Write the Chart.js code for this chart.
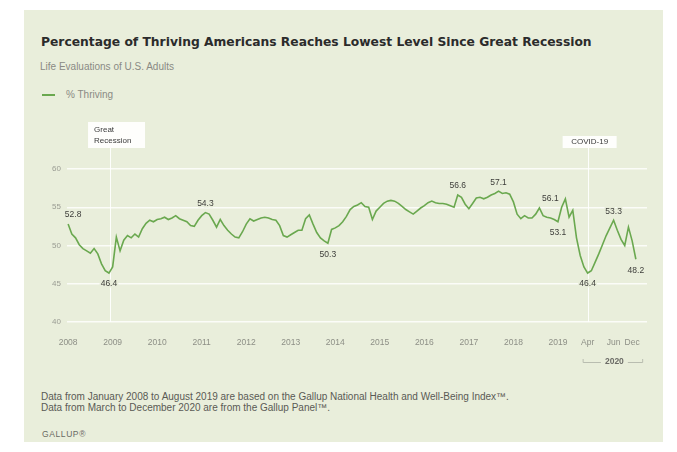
<!DOCTYPE html>
<html>
<head>
<meta charset="utf-8">
<script src="https://cdn.jsdelivr.net/npm/chart.js@4.4.1/dist/chart.umd.min.js"></script>
<style>
body { margin: 0; width: 677px; height: 452px; background: #fff; position: relative; overflow: hidden; font-family: "Liberation Sans", Arial, sans-serif; }
#card { position: absolute; left: 24px; top: 10px; width: 639px; height: 432px; background: #e9eedb; }
.txt { position: absolute; white-space: nowrap; }
#title { left: 41px; top: 35px; font: bold 12.3px/14px "DejaVu Sans", sans-serif; color: #2b2b2b; }
#subtitle { left: 40px; top: 61px; font-size: 10px; line-height: 12px; color: #8a8a84; }
#legend-line { position: absolute; left: 42px; top: 94px; width: 13px; height: 2px; background: #6aa84f; }
#legend { left: 66px; top: 89px; font-size: 10px; line-height: 12px; color: #8a8a84; }
#note { left: 41px; top: 391px; font-size: 10px; line-height: 11px; color: #5a5a55; }
#brand { left: 42px; top: 429px; font-size: 8.5px; line-height: 10px; color: #6a6a64; letter-spacing: 0.6px; }
#chart-box { position: absolute; left: 24px; top: 110px; width: 639px; height: 270px; }
</style>
</head>
<body>
<div id="card"></div>
<div class="txt" id="title">Percentage of Thriving Americans Reaches Lowest Level Since Great Recession</div>
<div class="txt" id="subtitle">Life Evaluations of U.S. Adults</div>
<div id="legend-line"></div>
<div class="txt" id="legend">% Thriving</div>
<div id="chart-box"><canvas id="chart" width="639" height="270"></canvas></div>
<div class="txt" id="note">Data from January 2008 to August 2019 are based on the Gallup National Health and Well-Being Index™.<br>Data from March to December 2020 are from the Gallup Panel™.</div>
<div class="txt" id="brand">GALLUP®</div>

<script>
// % thriving, monthly 2008-2019 (Well-Being Index), then Gallup Panel readings in 2020
const thriving2008 = [52.8, 51.5, 51.0, 50.1, 49.6, 49.3, 49.0, 49.6, 48.9, 47.6, 46.7, 46.4];
const thriving2009 = [47.2, 51.1, 49.3, 50.7, 51.3, 51.0, 51.5, 51.1, 52.2, 52.9, 53.3, 53.1];
const thriving2010 = [53.4, 53.5, 53.7, 53.4, 53.6, 53.9, 53.5, 53.3, 53.1, 52.6, 52.5, 53.3];
const thriving2011 = [53.9, 54.3, 54.1, 53.3, 52.4, 53.4, 52.6, 52.0, 51.5, 51.1, 51.0, 51.8];
const thriving2012 = [52.8, 53.5, 53.2, 53.4, 53.6, 53.7, 53.6, 53.4, 53.3, 52.6, 51.3, 51.1];
const thriving2013 = [51.4, 51.7, 52.0, 52.0, 53.5, 54.0, 52.8, 51.7, 51.0, 50.6, 50.3, 52.1];
const thriving2014 = [52.3, 52.6, 53.1, 53.8, 54.7, 55.1, 55.3, 55.6, 55.1, 55.0, 53.4, 54.5];
const thriving2015 = [55.0, 55.5, 55.8, 55.9, 55.8, 55.5, 55.1, 54.7, 54.4, 54.1, 54.5, 54.9];
const thriving2016 = [55.2, 55.6, 55.8, 55.6, 55.5, 55.5, 55.4, 55.2, 55.0, 56.6, 56.3, 55.4];
const thriving2017 = [54.8, 55.5, 56.2, 56.3, 56.1, 56.3, 56.6, 56.8, 57.1, 56.8, 56.9, 56.7];
const thriving2018 = [55.7, 54.1, 53.5, 53.9, 53.6, 53.6, 54.1, 54.9, 53.9, 53.7, 53.6, 53.4];
const thriving2019 = [53.1, 55.0, 56.1, 53.7, 54.6];
const thriving2020 = [51.0, 48.7, 47.2, 46.4, 46.7, 47.8, 48.9, 50.1, 51.3, 52.3, 53.3, 52.0, 50.8, 50.0, 52.4, 50.6, 48.2];

const thriving = [].concat(thriving2008, thriving2009, thriving2010, thriving2011, thriving2012,
    thriving2013, thriving2014, thriving2015, thriving2016, thriving2017, thriving2018,
    thriving2019, thriving2020);

// x axis labels and the reading (point number) each one sits under
const xTickLabels = ['2008', '2009', '2010', '2011', '2012', '2013', '2014', '2015', '2016', '2017', '2018', '2019', 'Apr', 'Jun', 'Dec'];
const xTickAt = [0, 12, 24, 36, 48, 60, 72, 84, 96, 108, 120, 132, 140, 147, 152];
const yTicks = [40, 45, 50, 55, 60];

// readings that get a value label, and where the label goes
const calloutAt = [0, 11, 37, 70, 105, 116, 132, 134, 140, 147, 153];
const calloutSide = ['above', 'below', 'above', 'below', 'above', 'above', 'below', 'left', 'below', 'above', 'below'];

// events marked with a line
const events = [
    { at: 11.3, lines: ['Great', 'Recession'] },
    { at: 140, lines: ['COVID-19'] }
];

const bg = '#e9eedb';
const labelFont = '"Liberation Sans", Arial, sans-serif';

const annotations = {
    id: 'annotations',
    beforeDatasetsDraw(chart) {
        const { ctx, chartArea, scales: { x } } = chart;
        ctx.save();
        ctx.strokeStyle = 'rgba(255,255,255,0.9)';
        ctx.lineWidth = 1;
        events.forEach(ev => {
            const px = Math.round(x.getPixelForValue(ev.at)) + 0.5;
            ctx.beginPath();
            ctx.moveTo(px, chartArea.top - 21);
            ctx.lineTo(px, chartArea.bottom);
            ctx.stroke();
        });
        ctx.restore();
    },
    afterDatasetsDraw(chart) {
        const { ctx, chartArea, scales: { x, y } } = chart;
        ctx.save();
        ctx.font = '8px ' + labelFont;

        // event boxes
        events.forEach(ev => {
            const px = x.getPixelForValue(ev.at);
            ctx.fillStyle = 'rgba(255,255,255,0.92)';
            if (ev.lines.length > 1) {
                ctx.fillRect(px - 22, chartArea.top - 47, 57, 26);
                ctx.fillStyle = '#3a3a3a';
                ctx.textAlign = 'left';
                ctx.textBaseline = 'middle';
                ev.lines.forEach((t, k) => ctx.fillText(t, px - 16, chartArea.top - 39 + k * 11));
            } else {
                ctx.fillRect(px - 25, chartArea.top - 33, 54, 12);
                ctx.fillStyle = '#3a3a3a';
                ctx.textAlign = 'center';
                ctx.textBaseline = 'middle';
                ctx.fillText(ev.lines[0], px + 2, chartArea.top - 27);
            }
        });

        // value labels
        ctx.font = '8.5px ' + labelFont;
        ctx.textAlign = 'center';
        ctx.textBaseline = 'middle';
        ctx.lineJoin = 'round';
        calloutAt.forEach((i, k) => {
            const px = x.getPixelForValue(i);
            const py = y.getPixelForValue(thriving[i]);
            let lx = px, ly = py;
            if (calloutSide[k] === 'above') { ly = py - 9; }
            if (calloutSide[k] === 'below') { ly = py + 11; }
            if (calloutSide[k] === 'left') { lx = px - 15; }
            if (i === 0) lx += 5;
            const t = thriving[i].toFixed(1);
            ctx.strokeStyle = bg;
            ctx.lineWidth = 3;
            ctx.strokeText(t, lx, ly);
            ctx.fillStyle = '#3d3d3a';
            ctx.fillText(t, lx, ly);
        });

        // 2020 bracket under the axis
        const x1 = x.getPixelForValue(xTickAt[12]) - 5;
        const x2 = x.getPixelForValue(xTickAt[14]) + 10;
        const by = chartArea.bottom + 40;
        const mid = (x1 + x2) / 2 + 2;
        ctx.font = 'bold 8.5px ' + labelFont;
        const w = ctx.measureText('2020').width;
        ctx.strokeStyle = '#b9bdb0';
        ctx.lineWidth = 1;
        ctx.beginPath();
        ctx.moveTo(x1 + 0.5, by - 3); ctx.lineTo(x1 + 0.5, by + 0.5); ctx.lineTo(mid - w / 2 - 4, by + 0.5);
        ctx.moveTo(mid + w / 2 + 4, by + 0.5); ctx.lineTo(x2 + 0.5, by + 0.5); ctx.lineTo(x2 + 0.5, by - 3);
        ctx.stroke();
        ctx.fillStyle = '#6b6b66';
        ctx.fillText('2020', mid, by);
        ctx.restore();
    }
};

const ctx = document.getElementById('chart').getContext('2d');
new Chart(ctx, {
    type: 'line',
    data: {
        datasets: [{
            label: '% Thriving',
            data: thriving.map((v, i) => ({ x: i, y: v })),
            borderColor: '#6aa84f',
            borderWidth: 1.6,
            pointRadius: 0,
            tension: 0,
            fill: false
        }]
    },
    options: {
        responsive: false,
        animation: false,
        layout: { padding: { top: 59, right: 16, left: 0, bottom: 0 } },
        plugins: {
            legend: { display: false },
            tooltip: { enabled: false }
        },
        scales: {
            x: {
                type: 'linear',
                min: -0.3,
                max: 156,
                afterBuildTicks: scale => { scale.ticks = xTickAt.map(v => ({ value: v })); },
                afterFit: scale => { scale.height = 58; },
                ticks: {
                    autoSkip: false,
                    maxRotation: 0,
                    padding: 16,
                    color: '#8d8f86',
                    font: { family: labelFont, size: 8.5 },
                    callback: (v, idx) => xTickLabels[idx]
                },
                grid: { display: false, drawTicks: false },
                border: { display: false }
            },
            y: {
                min: 40,
                max: 60,
                afterBuildTicks: scale => { scale.ticks = yTicks.map(v => ({ value: v })); },
                afterFit: scale => { scale.width = 43; },
                ticks: {
                    padding: 6,
                    color: '#9a9c93',
                    font: { family: labelFont, size: 8 }
                },
                grid: { color: 'rgba(255,255,255,0.8)', lineWidth: 1.5, drawTicks: false },
                border: { display: false }
            }
        }
    },
    plugins: [annotations]
});
</script>
</body>
</html>
